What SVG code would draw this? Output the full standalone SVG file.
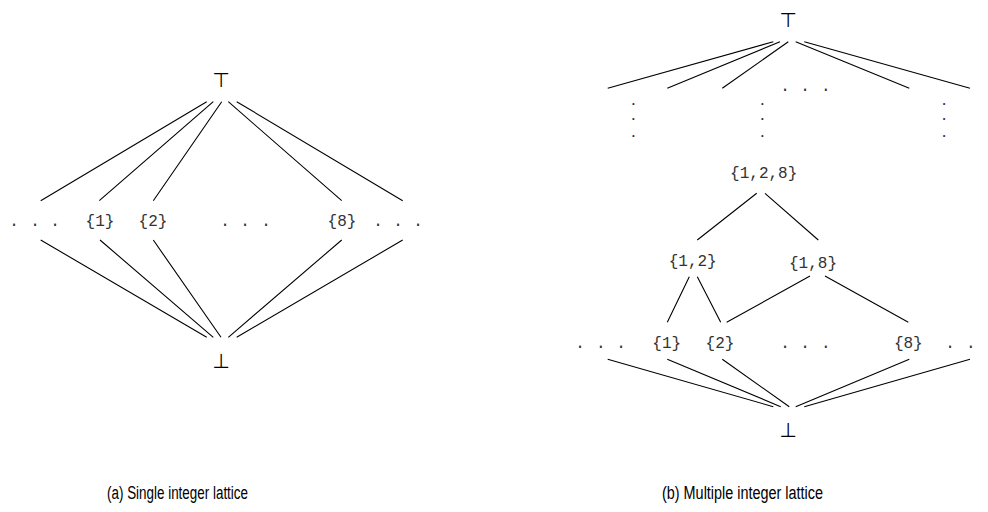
<svg xmlns="http://www.w3.org/2000/svg" width="988" height="512" viewBox="0 0 988 512">
<style>
.e{stroke:#000;stroke-width:1.1;fill:none}
.m{font-family:"Liberation Mono","DejaVu Sans Mono",monospace;font-size:16px;fill:#333;text-anchor:middle}
.v{font-family:"Liberation Mono","DejaVu Sans Mono",monospace;font-size:12px;font-weight:bold;fill:#333;text-anchor:middle}
.s{font-family:"DejaVu Sans","Liberation Sans",sans-serif;font-size:20px;fill:#000;text-anchor:middle}
.c{font-family:"Liberation Sans",Arial,sans-serif;font-size:18px;fill:#000}
</style>
<rect width="988" height="512" fill="#fff"/>
<g id="connectors">
<path class="e" d="M206.7,101.7L40.7,200.7M213.3,101.7L99.3,200.7M221.7,101.7L153.3,200.7M228.3,101.7L341.7,200.7M236.7,101.7L402.7,200.7"/>
<path class="e" d="M40.7,240L206.7,337.3M100,240L213.3,337.3M153.3,240L221,337.3M341.7,240L228.3,337.3M402.7,240L236.7,337.3"/>
<path class="e" d="M773.3,41.7L607.7,88.3M780,41.7L667.3,88.3M788.3,41.7L722.3,88.3M795.7,41.7L909.3,88.3M804.3,41.7L970,88.3"/>
<path class="e" d="M756.7,193.3L697.3,240M765,193.3L818.3,240"/>
<path class="e" d="M689.3,276.7L667.3,322.3M697.3,276.7L720.7,322.3M810,276L726.7,322.3M825,276L908.3,322.3"/>
<path class="e" d="M607.7,359.3L773.3,406.7M667.3,359.3L780.7,406.7M722.3,359.3L789.3,406.7M909.3,359.3L795.7,406.7M970,359.3L804.3,406.7"/>
</g>
<g id="a-top"><text class="s" x="221" y="87">⊤</text></g>
<g id="a-dots-left"><text class="m" x="14" y="226">.</text><text class="m" x="35" y="226">.</text><text class="m" x="55" y="226">.</text></g>
<g id="a-1"><text class="m" x="100" y="226">{1}</text></g>
<g id="a-2"><text class="m" x="153" y="226">{2}</text></g>
<g id="a-dots-mid"><text class="m" x="225" y="226">.</text><text class="m" x="245" y="226">.</text><text class="m" x="266" y="226">.</text></g>
<g id="a-8"><text class="m" x="342" y="226">{8}</text></g>
<g id="a-dots-right"><text class="m" x="378" y="226">.</text><text class="m" x="398" y="226">.</text><text class="m" x="418" y="226">.</text></g>
<g id="a-bottom"><text class="s" x="221" y="368">⊥</text></g>
<g id="b-top"><text class="s" x="788" y="27">⊤</text></g>
<g id="b-dots-top"><text class="m" x="785" y="91">.</text><text class="m" x="805" y="91">.</text><text class="m" x="825.7" y="91">.</text></g>
<g id="b-vdots-1"><text class="v" x="633.3" y="105">.</text><text class="v" x="633.3" y="120">.</text><text class="v" x="633.3" y="137">.</text></g>
<g id="b-vdots-2"><text class="v" x="762.3" y="105">.</text><text class="v" x="762.3" y="120">.</text><text class="v" x="762.3" y="137">.</text></g>
<g id="b-vdots-3"><text class="v" x="944" y="105">.</text><text class="v" x="944" y="120">.</text><text class="v" x="944" y="137">.</text></g>
<g id="b-128"><text class="m" x="763.7" y="178">{1,2,8}</text></g>
<g id="b-12"><text class="m" x="692.7" y="266">{1,2}</text></g>
<g id="b-18"><text class="m" x="813" y="268">{1,8}</text></g>
<g id="b-dots-left"><text class="m" x="580" y="348">.</text><text class="m" x="600.7" y="348">.</text><text class="m" x="621" y="348">.</text></g>
<g id="b-1"><text class="m" x="666.7" y="348">{1}</text></g>
<g id="b-2"><text class="m" x="720" y="348">{2}</text></g>
<g id="b-dots-mid"><text class="m" x="785" y="348">.</text><text class="m" x="805" y="348">.</text><text class="m" x="825.7" y="348">.</text></g>
<g id="b-8"><text class="m" x="908.3" y="348">{8}</text></g>
<g id="b-dots-right"><text class="m" x="950" y="348">.</text><text class="m" x="970.7" y="348">.</text></g>
<g id="b-bottom"><text class="s" x="788" y="437">⊥</text></g>
<text class="c" x="107" y="499" textLength="141" lengthAdjust="spacingAndGlyphs">(a) Single integer lattice</text>
<text class="c" x="662" y="499" textLength="161" lengthAdjust="spacingAndGlyphs">(b) Multiple integer lattice</text>
</svg>
